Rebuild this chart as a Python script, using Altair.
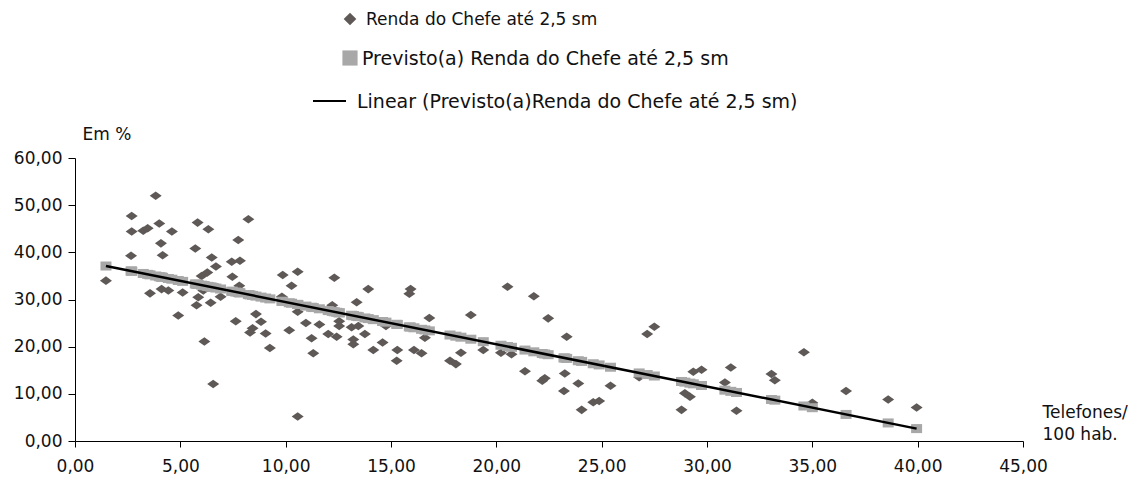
import altair as alt
import pandas as pd

# ---- data ----
telefones = [1.47, 2.69, 2.69, 2.66, 3.24, 3.45, 3.83, 4.0, 4.08, 4.16, 3.56, 4.11, 4.43, 4.6, 5.11, 4.9,
             5.82, 5.71, 6.33, 6.49, 6.69, 6.01, 6.28, 6.09, 5.85, 5.77, 6.44, 6.91, 6.14, 6.56, 7.44, 7.83,
             7.75, 8.23, 7.47, 7.8, 7.63, 8.59, 8.43, 8.83, 8.31, 9.05, 9.25, 9.86, 10.28, 10.57, 9.82, 10.17,
             10.57, 10.57, 12.31, 13.92, 13.37, 12.21, 10.96, 11.6, 12.54, 12.54, 13.13, 13.45, 11.23, 12.02,
             12.42, 13.21, 13.21, 13.76, 11.31, 14.16, 14.6, 14.76, 15.3, 15.27, 15.93, 15.87, 16.82, 16.61,
             16.09, 16.45, 17.8, 18.08, 18.32, 18.79, 19.38, 20.22, 20.72, 20.53, 21.78, 21.36, 22.18, 22.3,
             22.46, 23.34, 23.25, 23.89, 23.21, 25.42, 24.05, 24.6, 24.88, 27.16, 27.5, 26.78, 29.35, 29.74,
             31.13, 30.85, 28.95, 29.19, 28.79, 31.4, 33.06, 33.22, 34.6, 35.0, 36.6, 38.6, 39.95]

renda = [34.0, 47.7, 44.4, 39.3, 44.6, 45.1, 52.0, 46.1, 41.9, 39.4, 31.3, 32.2, 31.9, 44.4, 31.5, 26.6,
         46.3, 40.8, 44.9, 38.9, 37.0, 35.0, 35.7, 31.9, 30.5, 28.8, 29.3, 30.6, 21.1, 12.1, 38.0, 38.2,
         42.6, 47.0, 34.8, 32.9, 25.4, 26.9, 23.9, 25.3, 23.0, 22.8, 19.7, 35.2, 32.9, 35.9, 30.6, 23.5,
         27.4, 5.2, 34.6, 32.2, 29.4, 28.8, 25.0, 24.7, 25.4, 24.4, 24.1, 24.4, 21.8, 22.7,
         22.1, 21.5, 20.5, 22.7, 18.6, 19.3, 20.9, 24.4, 19.3, 17.0, 32.2, 31.2, 26.1, 21.9,
         19.3, 18.6, 17.0, 16.3, 18.7, 26.7, 19.3, 18.7, 18.4, 32.7, 30.7, 14.8, 12.8, 13.3,
         26.0, 22.1, 14.3, 12.2, 10.6, 11.7, 6.6, 8.2, 8.5, 22.7, 24.2, 13.5, 14.7, 15.1,
         15.6, 12.4, 10.1, 9.4, 6.6, 6.4, 14.2, 12.9, 18.8, 8.1, 10.6, 8.8, 7.1]

previsto = [37.10, 36.01, 36.01, 36.04, 35.52, 35.33, 34.99, 34.84, 34.76, 34.69, 35.23, 34.74, 34.45, 34.30,
            33.84, 34.03, 33.21, 33.30, 32.75, 32.61, 32.43, 33.04, 32.79, 32.96, 33.18, 33.25, 32.65, 32.23,
            32.92, 32.54, 31.75, 31.40, 31.48, 31.05, 31.73, 31.43, 31.58, 30.72, 30.87, 30.51, 30.97, 30.31,
            30.13, 29.59, 29.21, 28.95, 29.62, 29.31, 28.95, 28.95, 27.39, 25.95, 26.44, 27.48, 28.60, 28.03,
            27.18, 27.18, 26.66, 26.37, 28.36, 27.65, 27.29, 26.58, 26.58, 26.09, 28.29, 25.73, 25.34, 25.20,
            24.71, 24.74, 24.15, 24.20, 23.35, 23.54, 24.00, 23.68, 22.47, 22.22, 22.01, 21.58, 21.06, 20.30,
            19.86, 20.03, 18.91, 19.28, 18.55, 18.44, 18.30, 17.51, 17.59, 17.02, 17.62, 15.64, 16.87, 16.38,
            16.13, 14.09, 13.78, 14.43, 12.12, 11.77, 10.53, 10.78, 12.48, 12.27, 12.62, 10.29, 8.80, 8.66,
            7.42, 7.06, 5.63, 3.83, 2.63]

legend_labels = ["Renda do Chefe até 2,5 sm",
                 "Previsto(a) Renda do Chefe até 2,5 sm",
                 "Linear (Previsto(a)Renda do Chefe até 2,5 sm)"]
x_ticks = [0, 5, 10, 15, 20, 25, 30, 35, 40, 45]
y_ticks = [0, 10, 20, 30, 40, 50, 60]
x_title = ["Telefones/", "100 hab."]
y_title = "Em %"

df = pd.DataFrame({"tel": telefones, "renda": renda, "prev": previsto})

FONT = "DejaVu Sans"
FS = 17
DIAMOND = "M-1,0L0,-0.71L1,0L0,0.71Z"
SQUARE = "M-1,-0.82L1,-0.82L1,0.82L-1,0.82Z"
C_DIAMOND = "#5e5957"
C_SQUARE = "#a8a8a8"

label_expr = "replace(format(datum.value, '.2f'), '.', ',')"
xs = alt.Scale(domain=[0, 45], nice=False, zero=False)
ys = alt.Scale(domain=[0, 60], nice=False)

x_axis = alt.Axis(values=x_ticks, labelExpr=label_expr, title=x_title, titleAngle=0,
                  titleAlign="left", titleBaseline="alphabetic", titleX=967, titleY=-24,
                  titleLineHeight=22, grid=False, labelFlush=False, tickSize=6, labelPadding=11)
y_axis = alt.Axis(values=y_ticks, labelExpr=label_expr, title=y_title, titleAngle=0,
                  titleAlign="left", titleBaseline="alphabetic", titleX=7, titleY=-19,
                  grid=False, tickSize=7, labelPadding=6)

base = alt.Chart(df)

diamonds = base.mark_point(shape=DIAMOND, filled=True, size=144, color=C_DIAMOND,
                           opacity=1, strokeWidth=0).encode(
    x=alt.X("tel:Q", scale=xs, axis=x_axis),
    y=alt.Y("renda:Q", scale=ys, axis=y_axis),
)

squares = base.mark_point(shape=SQUARE, filled=True, size=121, color=C_SQUARE,
                          opacity=1, strokeWidth=0).encode(
    x=alt.X("tel:Q", scale=xs),
    y=alt.Y("prev:Q", scale=ys),
)

trend = base.transform_regression("tel", "prev").mark_line(color="black", strokeWidth=2.5).encode(
    x=alt.X("tel:Q", scale=xs),
    y=alt.Y("prev:Q", scale=ys),
)

# ---- legend (decoration) ----
def leg_text(i, xpos, ypos, fs):
    return alt.Chart(pd.DataFrame({"label": [legend_labels[i]]})).mark_text(
        align="left", baseline="alphabetic", font=FONT, fontSize=fs, color="#111111"
    ).encode(text="label:N", x=alt.value(xpos), y=alt.value(ypos))

leg_d = alt.Chart(pd.DataFrame({"label": [legend_labels[0]]})).mark_point(
    shape="diamond", filled=True, size=160, color=C_DIAMOND, opacity=1, strokeWidth=0
).encode(x=alt.value(275), y=alt.value(-139))
leg_s = alt.Chart(pd.DataFrame({"label": [legend_labels[1]]})).mark_square(
    size=230, color=C_SQUARE, opacity=1
).encode(x=alt.value(275), y=alt.value(-100))
leg_l = alt.Chart(pd.DataFrame({"label": [legend_labels[2]]})).mark_rule(
    color="black", strokeWidth=2
).encode(x=alt.value(238), x2=alt.value(271), y=alt.value(-57))

chart = alt.layer(
    diamonds, squares, trend,
    leg_d, leg_text(0, 291, -133, 17),
    leg_s, leg_text(1, 287, -93, 19),
    leg_l, leg_text(2, 282, -50, 19),
).properties(
    width=948, height=283,
    autosize=alt.AutoSizeParams(type="none"),
    padding={"left": 67, "top": 150, "right": 105, "bottom": 33},
).configure_view(stroke=None).configure_axis(
    domainColor="black", tickColor="black", labelColor="#111111", titleColor="#111111",
    labelFont=FONT, titleFont=FONT, labelFontSize=FS, titleFontSize=FS,
    titleFontWeight="normal", domainWidth=1, tickWidth=1,
)

chart.save("out.html", embed_options={"renderer": "svg", "actions": False})
